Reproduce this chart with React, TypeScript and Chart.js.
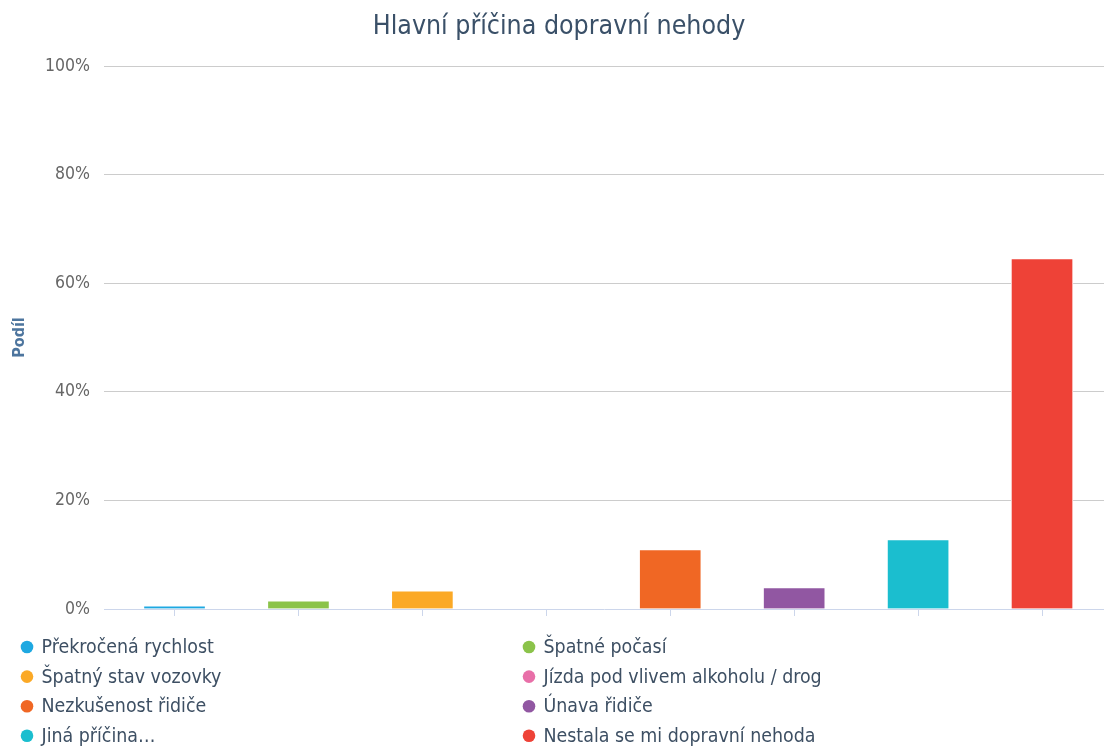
import { useEffect, useRef } from 'react';
import { Chart, registerables } from 'chart.js';

Chart.register(...registerables);

// Survey answers: main cause of a traffic accident (share of respondents, %)
const categories = [
  'Překročená rychlost',
  'Špatné počasí',
  'Špatný stav vozovky',
  'Jízda pod vlivem alkoholu / drog',
  'Nezkušenost řidiče',
  'Únava řidiče',
  'Jiná příčina…',
  'Nestala se mi dopravní nehoda',
];
const shares = [0.6, 1.5, 3.35, 0, 10.95, 3.95, 12.8, 64.55];
const barColors = ['#1ea8e1', '#8bc34a', '#fba926', '#e86fa8', '#f06724', '#9157a2', '#1bbecf', '#ee4237'];
const yTickValues = [0, 20, 40, 60, 80, 100];

const chartTitle = 'Hlavní příčina dopravní nehody';
const yAxisTitle = 'Podíl';

const FONT = "'DejaVu Sans Condensed', 'DejaVu Sans', sans-serif";
const TITLE_COLOR = '#3a5068';
const LEGEND_COLOR = '#3d4f63';

// Chart heading, drawn slightly right of the canvas centre
const headingPlugin = {
  id: 'heading',
  afterDraw(chart: any) {
    const ctx = chart.ctx as CanvasRenderingContext2D;
    ctx.save();
    ctx.font = `26.5px ${FONT}`;
    ctx.fillStyle = TITLE_COLOR;
    ctx.textAlign = 'center';
    ctx.textBaseline = 'middle';
    ctx.fillText(chartTitle, 559, 27);
    ctx.restore();
  },
};

// Two-column legend with round markers under the plot
const columnLegend = {
  id: 'columnLegend',
  afterDraw(chart: any) {
    const ctx = chart.ctx as CanvasRenderingContext2D;
    const top = chart.chartArea.bottom + 38;
    ctx.save();
    ctx.font = `19.4px ${FONT}`;
    ctx.textBaseline = 'middle';
    ctx.textAlign = 'left';
    categories.forEach((label, i) => {
      const col = i % 2;
      const row = Math.floor(i / 2);
      const cx = col === 0 ? 27 : 529;
      const cy = top + row * 29.6;
      ctx.fillStyle = barColors[i];
      ctx.beginPath();
      ctx.arc(cx, cy, 6.3, 0, Math.PI * 2);
      ctx.fill();
      ctx.fillStyle = LEGEND_COLOR;
      ctx.fillText(label, cx + 14.5, cy + 1);
    });
    ctx.restore();
  },
};

export default function App() {
  const canvasRef = useRef<HTMLCanvasElement | null>(null);

  useEffect(() => {
    const canvas = canvasRef.current;
    if (!canvas) return;
    const chart = new Chart(canvas, {
      type: 'bar',
      data: {
        datasets: [
          {
            label: yAxisTitle,
            data: shares.map((v, i) => ({ x: i, y: v })),
            backgroundColor: barColors,
            borderColor: '#ffffff',
            borderWidth: 1,
            barThickness: 62,
          },
        ],
      },
      options: {
        responsive: false,
        animation: false,
        layout: { padding: { left: 0, right: 0, top: 66, bottom: 131 } },
        plugins: {
          legend: { display: false },
          tooltip: { enabled: false },
          title: { display: false },
        },
        scales: {
          x: {
            type: 'linear',
            min: -0.569,
            max: 7.5,
            offset: false,
            ticks: { display: false, stepSize: 1, includeBounds: false },
            grid: {
              offset: false,
              drawOnChartArea: false,
              drawTicks: true,
              tickLength: 7,
              color: '#ccd6eb',
              lineWidth: 1,
            },
            border: { display: true, color: '#ccd6eb', width: 1 },
          },
          y: {
            min: yTickValues[0],
            max: yTickValues[yTickValues.length - 1],
            afterBuildTicks(scale: any) {
              scale.ticks = yTickValues.map((v) => ({ value: v }));
            },
            afterFit(scale: any) {
              scale.width = 104;
            },
            ticks: {
              color: '#666666',
              padding: 14,
              font: { family: FONT, size: 17.5 },
              callback: (v: any) => `${v}%`,
            },
            grid: {
              drawTicks: false,
              color: (c: any) => (c.tick && c.tick.value === 0 ? 'rgba(0,0,0,0)' : '#cccccc'),
              lineWidth: 1,
            },
            border: { display: false },
            title: {
              display: true,
              text: yAxisTitle,
              color: '#4d759e',
              font: { family: FONT, size: 16, weight: 'bold' },
              padding: { top: 10, bottom: 0 },
            },
          },
        },
      },
      plugins: [headingPlugin, columnLegend],
    });
    return () => chart.destroy();
  }, []);

  return (
    <div style={{ position: 'absolute', left: 0, top: 0, width: 1104, height: 747, background: '#ffffff' }}>
      <canvas ref={canvasRef} width={1104} height={747} style={{ display: 'block' }} />
    </div>
  );
}
